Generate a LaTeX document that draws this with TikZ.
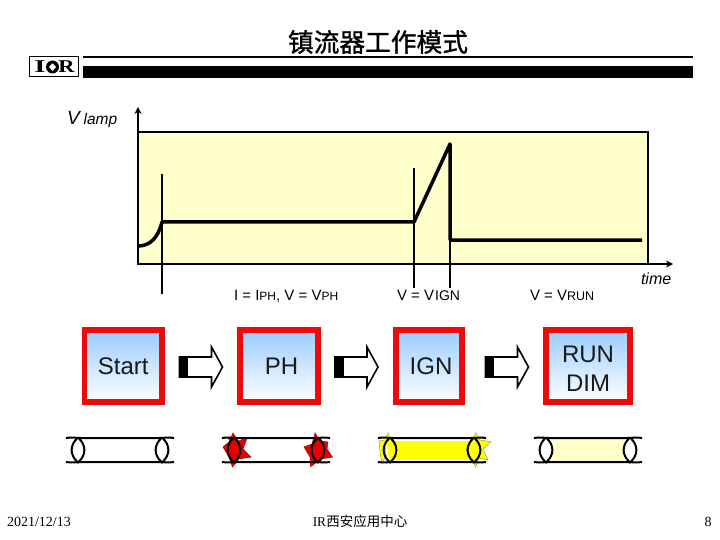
\documentclass[tikz,border=0pt]{standalone}
\usepackage{fontspec}
\usepackage{graphicx}
\setmainfont{Liberation Sans}
\newfontfamily\cjkfont{Noto Sans CJK SC}
\newfontfamily\titlefont[FakeBold=1.2]{Noto Sans CJK SC}
\newfontfamily\serifnum{Liberation Serif}
\usetikzlibrary{arrows.meta}
\definecolor{chartfill}{HTML}{FFFFCC}
\definecolor{boxred}{HTML}{EE0A0A}
\definecolor{boxblue}{HTML}{99CCFF}
\definecolor{lampyellow}{HTML}{FFFF00}
\definecolor{starred}{HTML}{E80000}
\definecolor{staredge}{HTML}{A01010}
\definecolor{yellowedge}{HTML}{A8A860}
\newcommand{\fs}[1]{\fontsize{#1}{#1}\selectfont}
\tikzset{
  x=1pt,y=-1pt,
  txt/.style={inner sep=0pt,outer sep=0pt,text=black},
  modebox/.style={draw=boxred,line width=5.5pt,top color=boxblue,bottom color=white,
    minimum height=72pt,inner sep=0pt,align=center,font=\fs{24},text=black!90},
  heavyline/.style={line width=3.5pt,line join=round,line cap=butt},
  markerline/.style={line width=2pt},
  pics/tube/.style={code={
    \fill[#1] (-6.3,-12) .. controls (-2,-6) and (-2,6) .. (0,12) .. controls (6,6) and (6,-6) .. (0,-12) -- cycle;
    \fill[#1] (84,-12) .. controls (90,-6) and (90,6) .. (84,12) .. controls (78,6) and (78,-6) .. (84,-12) -- cycle;
    \draw[line width=2pt] (-12,-12) .. controls (-6,-13) and (-2,-12) .. (3,-12) -- (81,-12) .. controls (86,-12) and (90,-13) .. (96,-12);
    \draw[line width=2pt] (-12,12) .. controls (-6,13) and (-2,12) .. (3,12) -- (81,12) .. controls (86,12) and (90,13) .. (96,12);
    \draw[line width=2pt] (0,-12.5) .. controls (-8.5,-5) and (-8.5,5) .. (0,12.5) .. controls (8.5,5) and (8.5,-5) .. (0,-12.5);
    \draw[line width=2pt] (84,-12.5) .. controls (75.5,-5) and (75.5,5) .. (84,12.5) .. controls (92.5,5) and (92.5,-5) .. (84,-12.5);
  }},
  pics/flowarrow/.style={code={
    \draw[line width=1.6pt,fill=white,line join=miter] (0,-10) -- (32,-10) -- (32,-20) -- (43,0) -- (32,20) -- (32,10) -- (0,10) -- cycle;
    \fill[black] (-0.5,-10.5) rectangle (8.5,10.5);
  }},
  redstar/.style={fill=starred,draw=staredge,line width=0.6pt},
  yellowstar/.style={fill=lampyellow,draw=yellowedge,line width=0.6pt},
}
\begin{document}
\begin{tikzpicture}
\useasboundingbox (0,0) rectangle (720,540);
% header
\node[txt,font=\titlefont\fs{25.7}] (title) at (378,42) {镇流器工作模式};
\fill[black] (82.5,56) rectangle (693,58.5);
\fill[black] (82.5,66) rectangle (693,78);
\node[draw=black,line width=1pt,minimum width=49pt,minimum height=20pt,inner sep=0pt] (logo) at (54,67) {};
\node[txt,font=\serifnum\bfseries\fs{18}] (logoI) at (40,67) {\scalebox{1.6}[1]{I}};
\node[txt,font=\serifnum\bfseries\fs{18}] (logoR) at (66.5,67) {\scalebox{1.25}[1]{R}};
\fill[black] (52.5,67) circle (6.5);
\fill[white] (52.5,63.5) -- (56,67) -- (52.5,71) -- (49,67) -- cycle;
% chart
\draw[fill=chartfill,line width=2pt] (138,132) rectangle (648,264);
\draw[line width=2pt,-{Stealth[length=7pt,width=7pt]}] (138,264) -- (138,107);
\draw[line width=2pt,-{Stealth[length=7pt,width=7pt]}] (648,264) -- (673,264);
\draw[markerline] (162,174) -- (162,294);
\draw[markerline] (414,168) -- (414,288);
\draw[markerline] (450,144) -- (450,288);
\draw[heavyline] (138,246) .. controls (150,246) and (158,238) .. (162,222) -- (414,222) -- (450,144) -- (450,240) -- (642,240);
\node[txt,anchor=base west] (vlamp) at (67,125) {\itshape\fs{19}V\hspace{4pt}\fs{15.5}lamp};
\node[txt,anchor=base west] (tlabel) at (641,284) {\itshape\fs{16}time};
\node[txt,anchor=base west] (lph) at (234,300.5) {\fs{15}I = I\fs{12}PH\fs{15}, V = V\fs{12}PH};
\node[txt,anchor=base west] (lign) at (397,300.5) {\fs{15}V = V\hspace{1pt}\fs{14}IGN};
\node[txt,anchor=base west] (lrun) at (530,300.5) {\fs{15}V = V\fs{12.5}RUN};
% mode boxes
\node[modebox,minimum width=77.5pt] (start) at (123.2,366) {\raisebox{-1pt}{Start}};
\node[modebox,minimum width=78pt] (ph) at (279,366) {\hspace{5pt}\raisebox{-1pt}{PH}};
\node[modebox,minimum width=66pt] (ign) at (429,366) {\hspace{4pt}\raisebox{-1pt}{IGN}};
\node[modebox,minimum width=84pt] (run) at (588,366) {};
\node[txt,align=center,font=\fs{24},text=black!90,execute at begin node={\setlength{\baselineskip}{29pt}}] (runlabel) at (588,368.5) {RUN\\DIM};
\pic at (179.5,367) {flowarrow};
\pic at (335,367) {flowarrow};
\pic at (485.5,367) {flowarrow};
% lamps
\pic at (78,450) {tube=white};
\draw[redstar] (233,433) -- (238,441) -- (247,438) -- (243,449) -- (251,457) -- (239,459) -- (232.5,467) -- (229,457) -- (223,447) -- (229,442) -- cycle;
\draw[redstar] (315,433) -- (320,441) -- (328,442) -- (327,449) -- (332.5,457) -- (321,459) -- (310.7,466.7) -- (310,457) -- (304,447) -- (312,444) -- cycle;
\pic at (234,450) {tube=starred};
\fill[lampyellow] (390,441) rectangle (474,460);
\draw[yellowstar] (388,433) -- (391,441) -- (385,444) -- (386,456) -- (382,463) -- (380,452) -- (379,441) -- (385,440) -- cycle;
\draw[yellowstar] (475.7,433) -- (480,440) -- (491,441.7) -- (483,449) -- (488,460) -- (479,458) -- (475.7,467) -- (472,458) -- (466,450) -- (472,441) -- cycle;
\pic at (390,450) {tube=lampyellow};
\fill[chartfill] (552,438.5) rectangle (624,461.5);
\pic at (546,450) {tube=white};
% footer
\node[txt,anchor=base west,font=\serifnum\fs{14}] (date) at (7,526) {2021/12/13};
\node[txt,anchor=base,font=\fs{13.5}] (center) at (360,526) {{\serifnum IR}{\cjkfont 西安应用中心}};
\node[txt,anchor=base east,font=\serifnum\fs{14}] (page) at (711.5,526) {8};
\end{tikzpicture}
\end{document}
